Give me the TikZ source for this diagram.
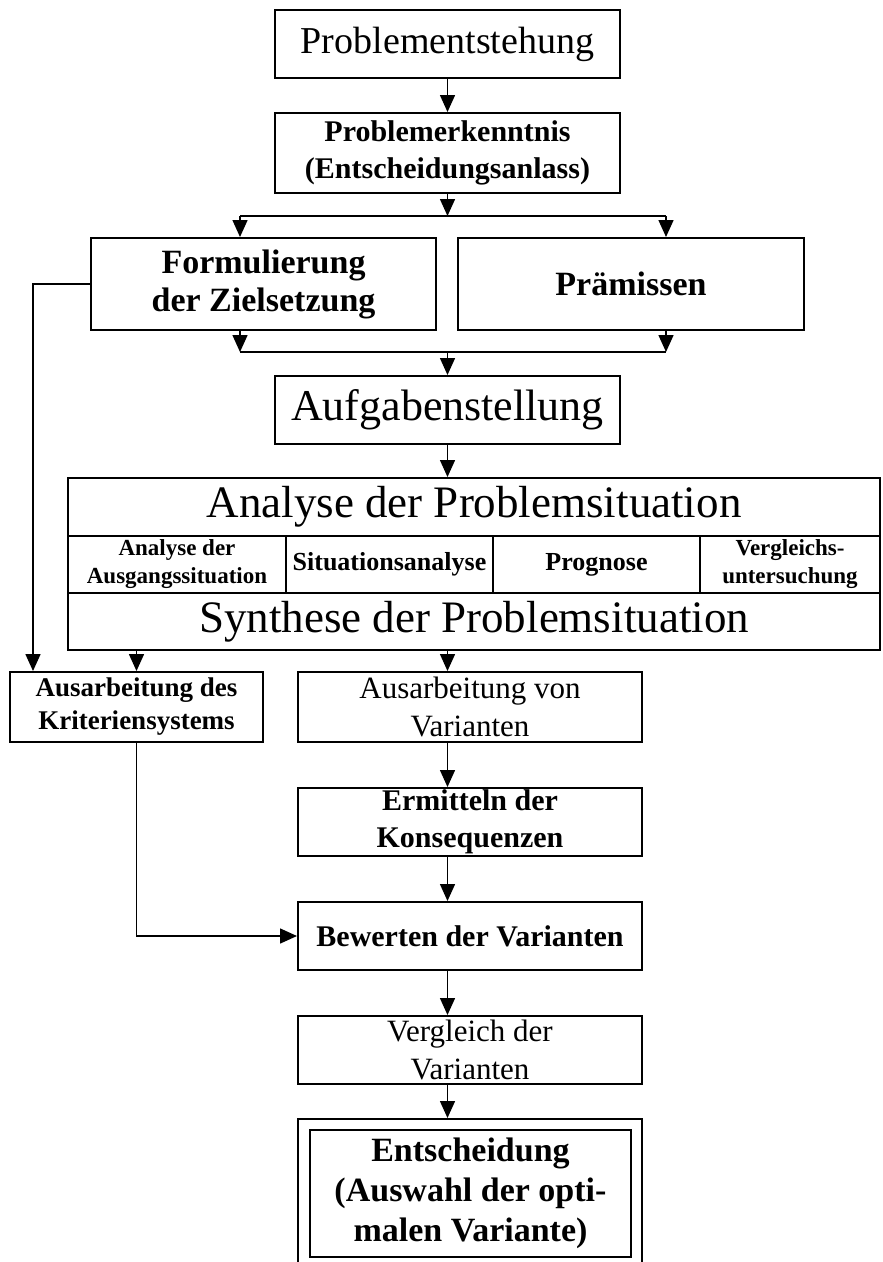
\documentclass[tikz,border=0pt]{standalone}
\usepackage{fontspec}
\setmainfont{Liberation Serif}
\usepackage{tikz}
\usetikzlibrary{calc}
\usetikzlibrary{arrows.meta}
\usetikzlibrary{positioning}

\tikzset{
  box/.style={rectangle, draw=black, line width=2pt, inner sep=0pt, align=center},
  pfeil/.style={-{Triangle[length=17pt,width=15pt]}, line width=1.5pt},
  linie/.style={line width=1.5pt},
  gross/.style={font=\fontsize{45}{50}\selectfont},
  mittel/.style={font=\bfseries\fontsize{30}{37}\selectfont},
  klein/.style={font=\bfseries\fontsize{23}{28}\selectfont}
}

\begin{document}
\begin{tikzpicture}[x=1pt, y=-1pt]
\useasboundingbox (0, 0) rectangle (883, 1262);

\node [box, minimum width=345, minimum height=68, font=\fontsize{38}{42}\selectfont] (entst) at (447.5, 44) {Problementstehung};
\node [box, mittel, minimum width=345, minimum height=80] (erk) at (447.5, 153) {Problemerkenntnis\\(Entscheidungsanlass)};
\node [box, minimum width=345, minimum height=92, font=\bfseries\fontsize{34}{38}\selectfont] (ziel) at (263.5, 284) {Formulierung\\der Zielsetzung};
\node [box, minimum width=346, minimum height=92, font=\bfseries\fontsize{34}{38}\selectfont] (praem) at (631, 284) {Prämissen};
\node [box, minimum width=345, minimum height=68, font=\fontsize{44}{48}\selectfont] (aufg) at (447.5, 410) {Aufgabenstellung};

% Analyse / Synthese
\node [box, gross, minimum width=812, minimum height=58] (ana) at (474, 507) {Analyse der Problemsituation};
\node [box, klein, minimum width=218, minimum height=57] (ausg) at (177, 564.5) {Analyse der\\Ausgangssituation};
\node [box, font=\bfseries\fontsize{26}{30}\selectfont, minimum width=207, minimum height=57] (sit) at (389.5, 564.5) {Situationsanalyse};
\node [box, font=\bfseries\fontsize{26}{30}\selectfont, minimum width=207, minimum height=57] (progn) at (596.5, 564.5) {Prognose};
\node [box, klein, minimum width=180, minimum height=57] (vglu) at (790, 564.5) {Vergleichs-\\untersuchung};
\node [box, gross, minimum width=812, minimum height=57] (syn) at (474, 621.5) {Synthese der Problemsituation};

\node [box, font=\bfseries\fontsize{27}{33}\selectfont, minimum width=253, minimum height=70] (krit) at (136.5, 707) {Ausarbeitung des\\Kriteriensystems};
\node [box, font=\fontsize{31}{38}\selectfont, minimum width=344, minimum height=70] (var) at (470, 707) {Ausarbeitung von\\Varianten};
\node [box, mittel, minimum width=344, minimum height=68] (erm) at (470, 822) {Ermitteln der\\Konsequenzen};
\node [box, mittel, minimum width=344, minimum height=68] (bew) at (470, 936) {Bewerten der Varianten};
\node [box, font=\fontsize{31}{38}\selectfont, minimum width=344, minimum height=68] (vgl) at (470, 1050) {Vergleich der\\Varianten};
\node [box, minimum width=344, minimum height=147] (rahmen) at (470, 1192.5) {};
\node [box, font=\bfseries\fontsize{34}{40}\selectfont, minimum width=321, minimum height=127] (entsch) at (470.5, 1193.5) {Entscheidung\\(Auswahl der opti-\\malen Variante)};

\coordinate (verteil) at (447.5, 216);
\coordinate (vl) at (240, 216);
\coordinate (vr) at (666, 216);
\coordinate (sammel) at (447.5, 352);
\coordinate (sl) at (240, 352);
\coordinate (sr) at (666, 352);
\coordinate (links) at (33, 284);

\draw [pfeil] (entst) to (erk);
\draw [pfeil] (erk) to (verteil);
\draw [linie] (vl) to (vr);
\draw [pfeil] (vl) to (vl |- ziel.north);
\draw [pfeil] (vr) to (vr |- praem.north);
\draw [pfeil] (sl |- ziel.south) to (sl);
\draw [pfeil] (sr |- praem.south) to (sr);
\draw [linie] (sl) to (sr);
\draw [pfeil] (sammel) to (aufg);
\draw [pfeil] (aufg) to (ana.north -| aufg);
\draw [pfeil] (ziel.west) -- (links) -- (links |- krit.north);
\draw [pfeil] (syn.south -| krit) to (krit);
\draw [pfeil] (syn.south -| aufg) to (var.north -| aufg);
\draw [pfeil] (var.south -| aufg) to (erm.north -| aufg);
\draw [pfeil] (erm.south -| aufg) to (bew.north -| aufg);
\draw [pfeil] (krit.south) |- (bew.west);
\draw [pfeil] (bew.south -| aufg) to (vgl.north -| aufg);
\draw [pfeil] (vgl.south -| aufg) to (rahmen.north -| aufg);
\end{tikzpicture}
\end{document}
